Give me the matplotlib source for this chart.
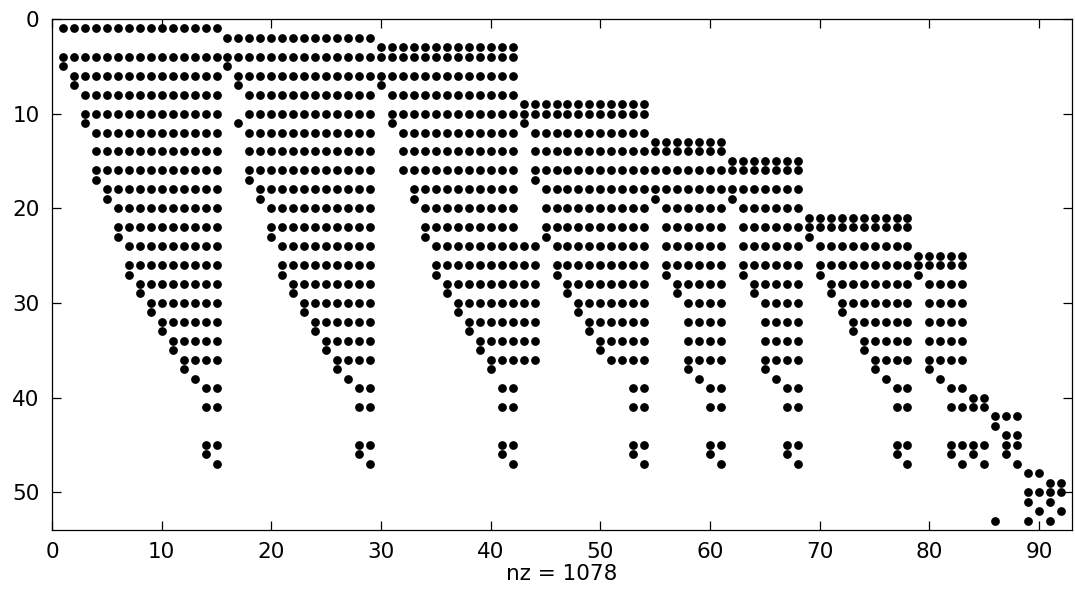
import matplotlib.pyplot as plt

# nonzero runs of the sparse pattern: (row, first column, last column)
block_a = [(1, 1, 15), (4, 1, 15), (5, 1, 1), (6, 2, 15), (7, 2, 2), (8, 3, 15),
           (10, 3, 15), (11, 3, 3), (12, 4, 15), (14, 4, 15), (16, 4, 15), (17, 4, 4),
           (18, 5, 15), (19, 5, 5), (20, 6, 15), (22, 6, 15), (23, 6, 6), (24, 7, 15),
           (26, 7, 15), (27, 7, 7), (28, 8, 15), (29, 8, 8), (30, 9, 15), (31, 9, 9),
           (32, 10, 15), (33, 10, 10), (34, 11, 15), (35, 11, 11), (36, 12, 15),
           (37, 12, 12), (38, 13, 13), (39, 14, 15), (41, 14, 15), (45, 14, 15),
           (46, 14, 14), (47, 15, 15)]
block_b = [(2, 16, 29), (4, 16, 29), (5, 16, 16), (6, 17, 29), (7, 17, 17), (8, 18, 29),
           (10, 18, 29), (11, 17, 17), (12, 18, 29), (14, 18, 29), (16, 18, 29),
           (17, 18, 18), (18, 19, 29), (19, 19, 19), (20, 20, 29), (22, 20, 29),
           (23, 20, 20), (24, 21, 29), (26, 21, 29), (27, 21, 21), (28, 22, 29),
           (29, 22, 22), (30, 23, 29), (31, 23, 23), (32, 24, 29), (33, 24, 24),
           (34, 25, 29), (35, 25, 25), (36, 26, 29), (37, 26, 26), (38, 27, 27),
           (39, 28, 29), (41, 28, 29), (45, 28, 29), (46, 28, 28), (47, 29, 29)]
block_c = [(3, 30, 42), (4, 30, 42), (6, 30, 42), (7, 30, 30), (8, 31, 42), (10, 31, 42),
           (11, 31, 31), (12, 32, 42), (14, 32, 42), (16, 32, 42), (18, 33, 42),
           (19, 33, 33), (20, 34, 42), (22, 34, 42), (23, 34, 34), (24, 35, 44),
           (26, 35, 44), (27, 35, 35), (28, 36, 44), (29, 36, 36), (30, 37, 44),
           (31, 37, 37), (32, 38, 44), (33, 38, 38), (34, 39, 44), (35, 39, 39),
           (36, 40, 44), (37, 40, 40), (39, 41, 42), (41, 41, 42), (45, 41, 42),
           (46, 41, 41), (47, 42, 42)]
block_d = [(9, 43, 54), (10, 43, 54), (11, 43, 43), (12, 44, 54), (14, 44, 54),
           (16, 44, 54), (17, 44, 44), (18, 45, 54), (20, 45, 54), (22, 45, 54),
           (23, 45, 45), (24, 46, 54), (26, 46, 54), (27, 46, 46), (28, 47, 54),
           (29, 47, 47), (30, 48, 54), (31, 48, 48), (32, 49, 54), (33, 49, 49),
           (34, 50, 54), (35, 50, 50), (36, 51, 54), (39, 53, 54), (41, 53, 54),
           (45, 53, 54), (46, 53, 53), (47, 54, 54)]
block_e = [(13, 55, 61), (14, 55, 61), (16, 55, 61), (18, 55, 61), (19, 55, 55),
           (20, 56, 61), (22, 56, 61), (24, 56, 61), (26, 56, 61), (27, 56, 56),
           (28, 57, 61), (29, 57, 57), (30, 58, 61), (32, 58, 61), (34, 58, 61),
           (36, 58, 61), (37, 58, 58), (38, 59, 59), (39, 60, 61), (41, 60, 61),
           (45, 60, 61), (46, 60, 60), (47, 61, 61)]
block_f = [(15, 62, 68), (16, 62, 68), (18, 62, 68), (19, 62, 62), (20, 63, 68),
           (22, 63, 68), (24, 63, 68), (26, 63, 68), (27, 63, 63), (28, 64, 68),
           (29, 64, 64), (30, 65, 68), (32, 65, 68), (34, 65, 68), (36, 65, 68),
           (37, 65, 65), (38, 66, 66), (39, 67, 68), (41, 67, 68), (45, 67, 68),
           (46, 67, 67), (47, 68, 68)]
block_g = [(21, 69, 78), (22, 69, 78), (23, 69, 69), (24, 70, 78), (26, 70, 78),
           (27, 70, 70), (28, 71, 78), (29, 71, 71), (30, 72, 78), (31, 72, 72),
           (32, 73, 78), (33, 73, 73), (34, 74, 78), (35, 74, 74), (36, 75, 78),
           (37, 75, 75), (38, 76, 76), (39, 77, 78), (41, 77, 78), (45, 77, 78),
           (46, 77, 77), (47, 78, 78)]
block_h = [(25, 79, 83), (26, 79, 83), (27, 79, 79), (28, 80, 83), (30, 80, 83),
           (32, 80, 83), (34, 80, 83), (36, 80, 83), (37, 80, 80), (38, 81, 81),
           (39, 82, 83), (40, 84, 85), (41, 82, 85), (45, 82, 85), (46, 82, 82),
           (46, 84, 84), (47, 83, 83), (47, 85, 85)]
block_i = [(42, 86, 88), (43, 86, 86), (44, 87, 88), (45, 87, 88), (46, 87, 87),
           (47, 88, 88), (48, 89, 90), (49, 91, 92), (50, 89, 92), (51, 89, 89),
           (51, 91, 91), (52, 90, 90), (52, 92, 92), (53, 86, 86), (53, 89, 89),
           (53, 91, 91)]

n_rows, n_cols = 53, 92

rows = []
cols = []
for block in [block_a, block_b, block_c, block_d, block_e, block_f, block_g, block_h, block_i]:
    for r, c0, c1 in block:
        for c in range(c0, c1 + 1):
            rows.append(r)
            cols.append(c)
nz = len(rows)

plt.rcParams['font.family'] = 'DejaVu Sans'
fig = plt.figure(figsize=(10.75, 6.04), dpi=100)
ax = fig.add_axes([52 / 1075, 1 - 530 / 604, 1020 / 1075, 511 / 604])
ax.plot(cols, rows, 'o', color='black', ms=6.3, mew=0)
ax.set_xlim(0, n_cols + 1)
ax.set_ylim(n_rows + 1, 0)
ax.set_xticks(range(0, 91, 10))
ax.set_yticks(range(0, 51, 10))
ax.tick_params(direction='in', length=6.5, width=0.9, top=True, right=True,
               labelsize=15.5, pad=9)
for s in ax.spines.values():
    s.set_linewidth(0.9)
ax.set_xlabel('nz = %d' % nz, fontsize=15.5, labelpad=1)
fig.savefig('out.png', dpi=100)
